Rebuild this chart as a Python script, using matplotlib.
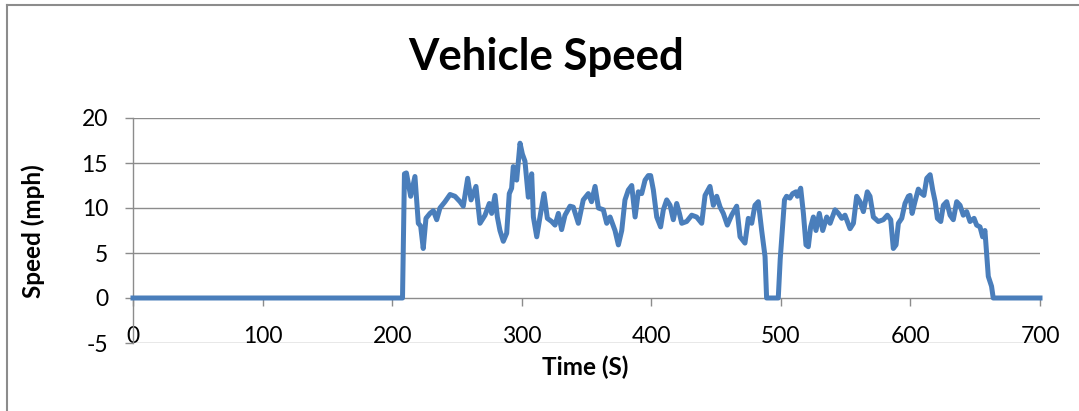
import matplotlib
matplotlib.use("Agg")
import matplotlib.pyplot as plt

plt.rcParams['font.family'] = ['Lato', 'DejaVu Sans']

time_s = [0, 208, 209.5, 211, 214.3, 217.6, 220.2, 222, 224, 226.1, 229.2, 231.8, 234.4, 236.9,
          240.8, 244.7, 248.5, 252.4, 254.9, 258.3, 260.9, 264.7, 267.8, 271.7, 275, 276.8,
          279.4, 281.2, 283.2, 285.8, 288.4, 290.4, 292.2, 293.5, 296.1, 298.7, 300.5, 302.5,
          305.1, 307.7, 309, 311.6, 314.1, 317.2, 319.8, 323.1, 325.7, 328.3, 330.8, 333.4,
          337.3, 339.8, 343.7, 347.5, 351.4, 353.9, 356.6, 359.2, 363, 365.6, 368.2, 372,
          374.6, 377.2, 379.7, 382.3, 384.9, 387.5, 390, 392.6, 395.2, 397.7, 399.5, 401.6,
          404.2, 407.2, 409.3, 411.9, 414.5, 417, 419.6, 421.7, 423.5, 427.3, 431.2, 435,
          438.9, 441.5, 445.3, 447.9, 450.5, 453.1, 455.6, 458.7, 462, 465.9, 468.5, 472.3,
          474.9, 477.5, 480, 482.6, 485.2, 487.8, 489, 498, 499.5, 501.9, 502.8, 504.4, 507,
          509.1, 511.7, 512.7, 515.3, 517.4, 519.4, 521.2, 523, 525.1, 527.1, 529.7, 532.3,
          535.4, 538, 541.8, 544.4, 547, 549.5, 553.4, 556, 558.5, 561.1, 563.7, 566.7, 568.8,
          571.4, 575.2, 579.1, 582.2, 584.8, 586.8, 588.9, 590.7, 593.3, 595.8, 598.4, 599.7,
          601.3, 603.5, 606.1, 608.7, 610.4, 612.6, 615.2, 617.2, 619.1, 620.8, 623.4, 625.4,
          628, 630.6, 633.1, 635.7, 638.3, 640.8, 643.4, 646, 649.1, 651.1, 653.7, 655.7,
          657.5, 658.8, 660.1, 662.6, 663.9, 700]
speed_mph = [0, 0, 13.8, 13.9, 11.3, 13.5, 8.3, 8.0, 5.5, 8.85, 9.4, 9.7, 8.7, 10.0,
             10.7, 11.5, 11.3, 10.7, 10.2, 13.3, 10.9, 12.4, 8.3, 9.2, 10.5, 9.4,
             11.4, 9.0, 7.5, 6.3, 7.2, 11.6, 12.2, 14.6, 13.1, 17.2, 16.0, 15.2,
             11.2, 13.8, 9.0, 6.8, 9.0, 11.6, 8.85, 8.5, 8.1, 9.4, 7.6, 9.2,
             10.2, 10.1, 8.3, 10.9, 11.6, 10.7, 12.4, 10.0, 9.8, 8.3, 9.0, 7.5,
             5.9, 7.5, 10.9, 12.0, 12.5, 9.0, 11.8, 11.6, 13.1, 13.6, 13.6, 12.0,
             9.0, 7.9, 9.8, 10.9, 10.3, 8.7, 10.5, 9.4, 8.3, 8.5, 9.2, 9.0,
             8.3, 11.4, 12.4, 10.3, 11.3, 10.1, 9.4, 8.1, 9.2, 10.2, 6.8, 6.1,
             8.85, 8.3, 10.3, 10.7, 7.5, 4.6, 0, 0, 4.3, 9.0, 10.9, 11.3, 11.1,
             11.6, 11.8, 11.3, 12.2, 9.4, 5.9, 5.7, 7.9, 9.0, 7.5, 9.4, 7.5,
             9.0, 8.3, 9.8, 9.4, 8.85, 9.2, 7.7, 8.3, 11.3, 10.7, 9.6, 11.8, 11.3,
             9.0, 8.5, 8.7, 9.2, 8.7, 5.5, 5.9, 8.3, 8.85, 10.5, 11.3, 11.4,
             9.4, 10.7, 12.1, 11.6, 11.4, 13.3, 13.7, 12.0, 10.7, 8.85, 8.5, 10.3,
             10.7, 9.2, 8.7, 10.7, 10.3, 9.2, 9.6, 8.5, 8.85, 8.1, 7.9, 6.8,
             7.5, 5.0, 2.4, 1.3, 0, 0]

x_ticks = [0, 100, 200, 300, 400, 500, 600, 700]
y_ticks = [-5, 0, 5, 10, 15, 20]

title = "Vehicle Speed"
x_label = "Time (S)"
y_label = "Speed (mph)"

GRID = '#8c8c8c'
LINE = '#4A7EBB'

fig = plt.figure(figsize=(10.79, 4.11), dpi=100)
ax = fig.add_axes([133/1079, 1 - 343/411, (1040-133)/1079, (343-118)/411])

ax.plot(time_s, speed_mph, color=LINE, lw=3.6, solid_joinstyle='round', zorder=3, clip_on=False)

ax.set_xlim(0, 700)
ax.set_ylim(-5, 20)

for y in y_ticks:
    if y != 0:
        ax.axhline(y, color=GRID, lw=1.0, zorder=1)

for s in ['top', 'right']:
    ax.spines[s].set_visible(False)
ax.spines['left'].set_color(GRID)
ax.spines['left'].set_linewidth(1.0)
ax.spines['bottom'].set_position(('data', 0))
ax.spines['bottom'].set_color(GRID)
ax.spines['bottom'].set_linewidth(1.0)

ax.set_xticks(x_ticks)
ax.set_yticks(y_ticks)
ax.set_xticklabels([str(v) for v in x_ticks])
ax.set_yticklabels([str(v) for v in y_ticks])
ax.tick_params(axis='x', direction='out', length=5.5, width=1.0, color=GRID,
               labelsize=16.5, pad=15)
ax.tick_params(axis='y', direction='out', length=6, width=1.0, color=GRID,
               labelsize=16.5, pad=12)

fig.text(546/1079, 1 - 57/411, title, fontsize=31.5, fontweight='bold',
         ha='center', va='center')
fig.text(585/1079, 1 - 367/411, x_label, fontsize=17.5, fontweight='bold',
         ha='center', va='center')
fig.text(33/1079, 1 - 231/411, y_label, fontsize=17.5, fontweight='bold',
         ha='center', va='center', rotation=90)

# chart area border (top and left visible)
fig.add_artist(plt.Line2D([7/1079, 7/1079], [0, 1 - 5/411], transform=fig.transFigure,
                          color=GRID, lw=1.5))
fig.add_artist(plt.Line2D([7/1079, 1], [1 - 5/411, 1 - 5/411], transform=fig.transFigure,
                          color=GRID, lw=1.5))

fig.savefig("out.png", dpi=100)
